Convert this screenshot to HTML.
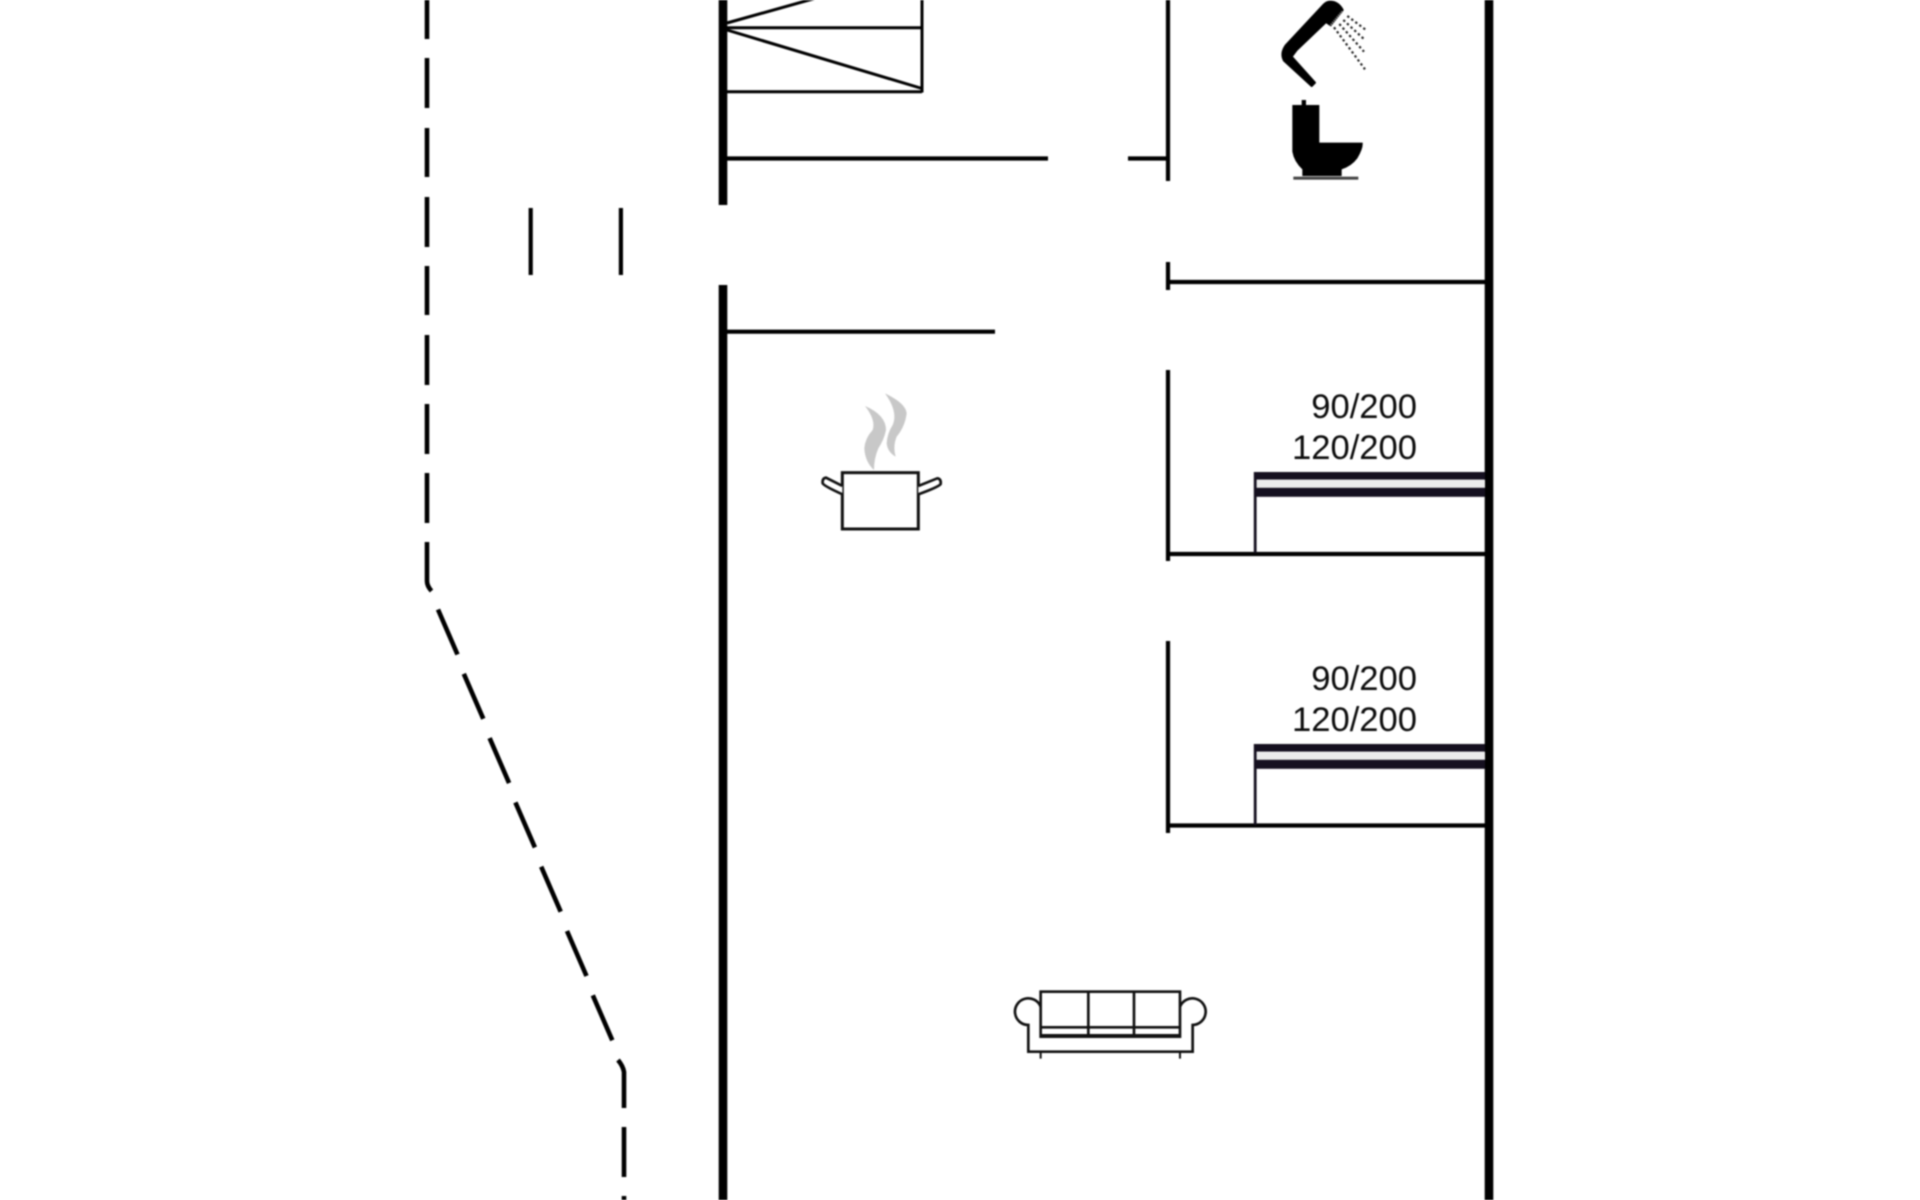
<!DOCTYPE html>
<html>
<head>
<meta charset="utf-8">
<style>
html,body{margin:0;padding:0;background:#fff;width:1920px;height:1200px;overflow:hidden}
svg{display:block;filter:blur(0.7px)}
text{font-family:"Liberation Sans",sans-serif;font-size:34.6px;fill:#0c0c0c;text-anchor:end}
</style>
</head>
<body>
<svg width="1920" height="1200" viewBox="0 0 1920 1200" xmlns="http://www.w3.org/2000/svg">
<rect width="1920" height="1200" fill="#fff"/>

<!-- dashed vertical left -->
<g stroke="#000" stroke-width="4.6" fill="none">
<path d="M427,-11V39M427,58V108M427,128V177M427,197V247M427,266V315M427,335V385M427,404V454M427,473V523"/>
<path d="M427,542V581Q427,586 431.5,591"/>
<path d="M438,609.5L457.5,654.5M463.8,673.8L483.3,718.8M489.6,738.1L509.1,783.1M515.4,802.4L534.9,847.4M541.2,866.7L560.7,911.7M567,931L586.5,976M592.8,995.3L612.3,1040.3"/>
<path d="M618,1060Q623,1066 624,1072V1108M624,1127V1177M624,1196V1215"/>
</g>

<!-- ticks -->
<path d="M530.7,208V275M620.9,208V275" stroke="#000" stroke-width="4.2" fill="none"/>

<!-- thick walls -->
<path d="M723,0V205M723,285V1200M1489,0V1200" stroke="#000" stroke-width="8.6" fill="none"/>

<!-- stairs -->
<g stroke="#000" stroke-width="3" fill="none">
<path d="M922,0V92.5M727,27.7H922M727,91.7H922"/>
<path d="M727,23L827,-5M727,30L922,88.5"/>
</g>

<!-- inner walls -->
<g stroke="#000" stroke-width="4.2" fill="none">
<path d="M1168,0V181M1168,262V290M1168,370V561M1168,641V833"/>
<path d="M727,158.5H1048M1128,158.5H1168M1168,282H1485M727,331.7H995"/>
<path d="M1168,554H1485M1168,825.5H1485"/>
</g>

<!-- beds -->
<g>
<rect x="1255" y="480" width="230" height="8" fill="#ececec"/>
<rect x="1255" y="472" width="230" height="7.6" fill="#15101f"/>
<rect x="1255" y="487.8" width="230" height="9" fill="#15101f"/>
<path d="M1255.2,472V553" stroke="#15101f" stroke-width="2.8" fill="none"/>
</g>
<g transform="translate(0,272)">
<rect x="1255" y="480" width="230" height="8" fill="#ececec"/>
<rect x="1255" y="472" width="230" height="7.6" fill="#15101f"/>
<rect x="1255" y="487.8" width="230" height="9" fill="#15101f"/>
<path d="M1255.2,472V553" stroke="#15101f" stroke-width="2.8" fill="none"/>
</g>

<text x="1417" y="418">90/200</text>
<text x="1417" y="459">120/200</text>
<text x="1417" y="690">90/200</text>
<text x="1417" y="731">120/200</text>

<!-- pot -->
<g transform="translate(800,380) scale(0.3333)">
<path d="M195,78Q258,105 258,150Q252,180 235,205Q222,235 222,270Q195,245 193,205Q195,175 218,150Q228,120 195,78Z" fill="#c8c8c8"/>
<path d="M255,40Q318,70 320,100Q315,140 290,170Q278,200 287,230Q262,215 260,190Q262,160 278,135Q295,95 255,40Z" fill="#c8c8c8"/>
<rect x="127" y="278" width="228" height="169" fill="#fff" stroke="#111" stroke-width="9"/>
<path d="M127,318L78,293Q66,295 68,310Q72,318 127,343" fill="#fff" stroke="#111" stroke-width="8"/>
<path d="M355,318L412,295Q424,297 422,312Q418,320 355,343" fill="#fff" stroke="#111" stroke-width="8"/>
</g>

<!-- shower -->
<g transform="translate(1260,0) scale(0.3333)">
<path d="M210,5Q235,5 248,30L212,76L198,66L110,150L95,170L165,248L155,258L72,182Q60,160 78,135L190,15Q200,5 210,5Z" fill="#000" stroke="#000" stroke-width="6" stroke-linejoin="round"/>
<path d="M247,34L210,78" stroke="#999" stroke-width="6" stroke-dasharray="4 3" fill="none"/>
<g stroke="#222" stroke-width="6.5" stroke-dasharray="7 8" fill="none">
<path d="M222,82L315,208"/>
<path d="M238,72L312,155"/>
<path d="M250,60L315,120"/>
<path d="M262,48L318,90"/>
</g>
</g>

<!-- toilet -->
<g transform="translate(1270,90) scale(0.3333)">
<path d="M95,45V30H108V45H148V158H278Q280,175 262,205Q245,228 215,238V258H97V238Q72,215 67,185V45Z" fill="#000"/>
<rect x="70" y="260" width="195" height="9" fill="#444"/>
</g>

<!-- sofa -->
<g transform="translate(1000,970) scale(0.3333)" fill="none" stroke="#111" stroke-width="8">
<path d="M122,110A40,40 0 1 0 85,165V245H578V165A40,40 0 1 0 540,110"/>
<rect x="122" y="65" width="418" height="135"/>
<path d="M265,65V198M402,65V198M122,172H540"/>
<path d="M122,196H540" stroke-width="8"/>
<path d="M122,245V266M540,245V266" stroke-width="6"/>
</g>
</svg>
</body>
</html>
